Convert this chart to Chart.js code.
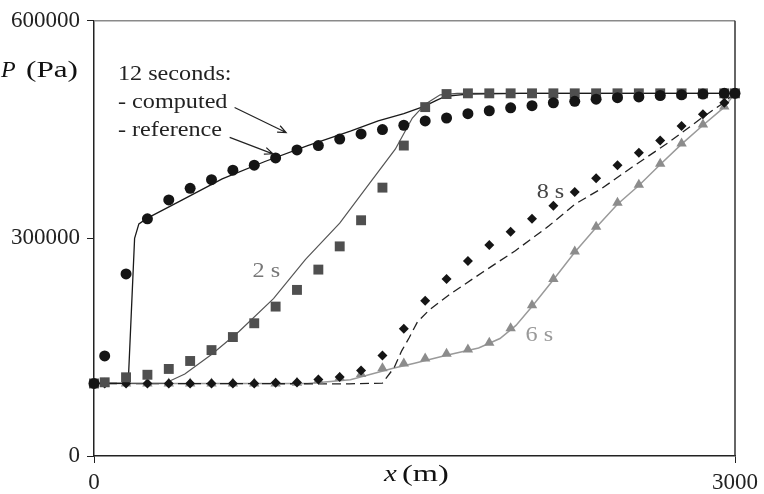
<!DOCTYPE html>
<html>
<head>
<meta charset="utf-8">
<script src="https://cdn.jsdelivr.net/npm/chart.js@4/dist/chart.umd.min.js"></script>
<style>
  html, body { margin: 0; padding: 0; background: #fff; }
</style>
</head>
<body>
<canvas id="q1" width="764" height="494"></canvas>
<script>
// reference solution points (m) - cell centres plus both ends
const xRef = [0, 50, 150, 250, 350, 450, 550, 650, 750, 850, 950, 1050, 1150, 1250, 1350, 1450,
  1550, 1650, 1750, 1850, 1950, 2050, 2150, 2250, 2350, 2450, 2550, 2650, 2750, 2850, 2950, 3000]

// reference pressures (Pa)
const ref2s = [100000, 101600, 108500, 112000, 120000, 131000, 146000, 164000, 183000, 206000, 229000,
  257000, 289000, 325000, 370000, 428000, 481000, 499000, 500000, 500000, 500000, 500000, 500000,
  500000, 500000, 500000, 500000, 500000, 500000, 500000, 500000, 500000]
const ref6s = [100000, 100000, 100000, 100000, 100000, 100000, 100000, 100000, 100000, 100000, 101000,
  104000, 108000, 113000, 121000, 127500, 134500, 141000, 147000, 156000, 176000, 208000, 244000,
  282000, 316000, 349000, 374000, 403000, 431000, 457000, 482000, 500000]
const ref8s = [100000, 100000, 100000, 100000, 100000, 100000, 100000, 100000, 100000, 101000, 101500,
  105500, 109000, 118000, 138500, 175500, 214000, 244000, 269000, 291000, 309000, 327000, 345000,
  364000, 383000, 401000, 418000, 435000, 455000, 471000, 487000, 499000]
const ref12s = [100000, 138000, 251000, 327000, 353000, 369000, 381000, 394000, 401000, 411000, 422000,
  428000, 437000, 444000, 450000, 456000, 462000, 466000, 472000, 476000, 480000, 483000, 487000,
  489000, 492000, 494000, 495000, 497000, 498000, 499000, 500000, 500000]

// computed curves
const x2s = [0, 330, 425, 550, 680, 840, 990, 1150, 1300, 1410, 1490, 1550, 1620, 1700, 3000]
const p2s = [100000, 100000, 113000, 140000, 172000, 217000, 271000, 321000, 380000, 423000, 466000, 485000, 498000, 500000, 500000]
const x6s = [0, 1000, 1200, 1400, 1500, 1650, 1800, 1900, 1975, 2050, 2150, 2250, 2350, 2450, 2550, 2650, 2750, 2850, 2950, 3000]
const p6s = [100000, 100000, 105000, 121000, 128000, 139000, 149000, 162000, 180000, 206000, 243000, 281000, 315000, 347000, 373000, 402000, 430000, 456000, 481000, 500000]
const x8s = [0, 1195, 1350, 1405, 1440, 1475, 1514, 1568, 1661, 1817, 1972, 2128, 2250, 2377, 2532, 2688, 2844, 2937, 3000]
const p8s = [100000, 99500, 100500, 122000, 145000, 163000, 185000, 201000, 222000, 253000, 283000, 317000, 347000, 369000, 401000, 432000, 466000, 485000, 500000]
const x12s = [0, 160, 175, 190, 210, 250, 400, 600, 800, 1000, 1200, 1330, 1450, 1545, 1600, 1646, 1750, 2000, 3000]
const p12s = [100000, 100000, 200000, 300000, 320000, 328000, 351000, 382000, 406000, 428000, 448000, 462000, 472000, 482000, 490000, 496000, 499000, 500000, 500000]

const xTicks = [0, 3000]
const yTicks = [0, 300000, 600000]

const serif = '"Liberation Serif", "Times New Roman", serif'

const pts = (xs, ys) => xs.map((x, i) => ({ x: x, y: ys[i] }))

const curve = (xs, ys, color, width, dash) => ({
  data: pts(xs, ys),
  showLine: true,
  borderColor: color,
  borderWidth: width,
  borderDash: dash || [],
  pointRadius: 0,
  tension: 0,
  clip: false,
  order: 10
})

const markers = (ys, style, color, r, order) => ({
  data: pts(xRef, ys),
  showLine: false,
  pointStyle: style,
  pointRadius: r,
  pointBackgroundColor: color,
  pointBorderColor: color,
  pointBorderWidth: 0,
  clip: false,
  order: order
})

// text drawn a bit wider than the font, like the original figure
const wideText = (ctx, s, x, y, font, stretch) => {
  ctx.save()
  ctx.font = font
  ctx.translate(x, y)
  ctx.scale(stretch, 1)
  ctx.fillText(s, 0, 0)
  const w = ctx.measureText(s).width * stretch
  ctx.restore()
  return w
}

// text, arrows, axis titles and the top/right frame
const extras = {
  id: 'extras',
  beforeDatasetsDraw(chart) {
    const { ctx, chartArea: a } = chart
    ctx.save()
    ctx.lineWidth = 1.5
    ctx.strokeStyle = '#8a8a8a'
    ctx.beginPath()
    ctx.moveTo(a.left, a.top)
    ctx.lineTo(a.right, a.top)
    ctx.stroke()
    ctx.strokeStyle = '#333'
    ctx.beginPath()
    ctx.moveTo(a.right, a.top)
    ctx.lineTo(a.right, a.bottom)
    ctx.stroke()
    ctx.restore()
  },
  afterDraw(chart) {
    const { ctx } = chart
    const sx = chart.scales.x, sy = chart.scales.y
    const X = v => sx.getPixelForValue(v), Y = v => sy.getPixelForValue(v)
    ctx.save()
    ctx.textBaseline = 'alphabetic'
    ctx.textAlign = 'left'

    const text = (s, x, y, color) => {
      ctx.fillStyle = color
      wideText(ctx, s, X(x), Y(y), '22px ' + serif, 1.1)
    }
    text('12 seconds:', 112, 518500, '#222')
    text('- computed', 112, 480400, '#222')
    text('- reference', 112, 441400, '#222')
    text('2 s', 742, 246700, '#777')
    text('8 s', 2072, 355400, '#444')
    text('6 s', 2020, 158300, '#999')

    const arrow = (x0, y0, x1, y1) => {
      const ax = X(x0), ay = Y(y0), bx = X(x1), by = Y(y1)
      const ang = Math.atan2(by - ay, bx - ax)
      ctx.strokeStyle = '#222'
      ctx.lineWidth = 1.2
      ctx.beginPath()
      ctx.moveTo(ax, ay)
      ctx.lineTo(bx, by)
      ctx.moveTo(bx - 9 * Math.cos(ang - 0.4), by - 9 * Math.sin(ang - 0.4))
      ctx.lineTo(bx, by)
      ctx.lineTo(bx - 9 * Math.cos(ang + 0.4), by - 9 * Math.sin(ang + 0.4))
      ctx.stroke()
    }
    arrow(658, 480400, 899, 446000)
    arrow(635, 439200, 837, 416600)

    // axis titles, italic symbol + upright unit
    ctx.fillStyle = '#111'
    wideText(ctx, 'P', 1, 77, 'italic 24px ' + serif, 1.0)
    wideText(ctx, '(Pa)', 26, 77, '24px ' + serif, 1.3)
    wideText(ctx, 'x', 384, 481, 'italic 24px ' + serif, 1.2)
    wideText(ctx, '(m)', 402, 481, '24px ' + serif, 1.35)
    ctx.restore()
  }
}

new Chart('q1', {
  type: 'scatter',
  data: {
    datasets: [
      markers(ref12s, 'circle', '#151515', 5.5, 1),
      markers(ref2s, 'rect', '#4f4f4f', 7, 2),
      markers(ref8s, 'rectRot', '#151515', 5, 3),
      markers(ref6s, 'triangle', '#8c8c8c', 6, 4),
      curve(x12s, p12s, '#1a1a1a', 1.3),
      curve(x2s, p2s, '#555', 1.2),
      curve(x8s, p8s, '#222', 1.3, [9, 5]),
      curve(x6s, p6s, '#9a9a9a', 1.5)
    ]
  },
  options: {
    responsive: false,
    animation: false,
    devicePixelRatio: 1,
    layout: { padding: { top: 15, right: 27, left: 0, bottom: 0 } },
    plugins: { legend: { display: false }, tooltip: { enabled: false } },
    scales: {
      x: {
        type: 'linear', min: 0, max: 3000,
        afterBuildTicks: s => { s.ticks = xTicks.map(v => ({ value: v })) },
        afterFit: s => { s.height = 38 },
        grid: { drawOnChartArea: false, drawTicks: true, tickLength: 7, color: '#222' },
        border: { display: true, color: '#222', width: 1.5 },
        ticks: { padding: 6, color: '#222', font: { family: serif, size: 23 }, callback: v => String(v), maxRotation: 0 }
      },
      y: {
        type: 'linear', min: 0, max: 600000,
        afterBuildTicks: s => { s.ticks = yTicks.map(v => ({ value: v })) },
        afterFit: s => { s.width = 94 },
        grid: { drawOnChartArea: false, drawTicks: true, tickLength: 7, color: '#222' },
        border: { display: true, color: '#222', width: 1.5 },
        ticks: { padding: 7, color: '#222', font: { family: serif, size: 23 }, callback: v => String(v) }
      }
    }
  },
  plugins: [extras]
})
</script>
</body>
</html>
